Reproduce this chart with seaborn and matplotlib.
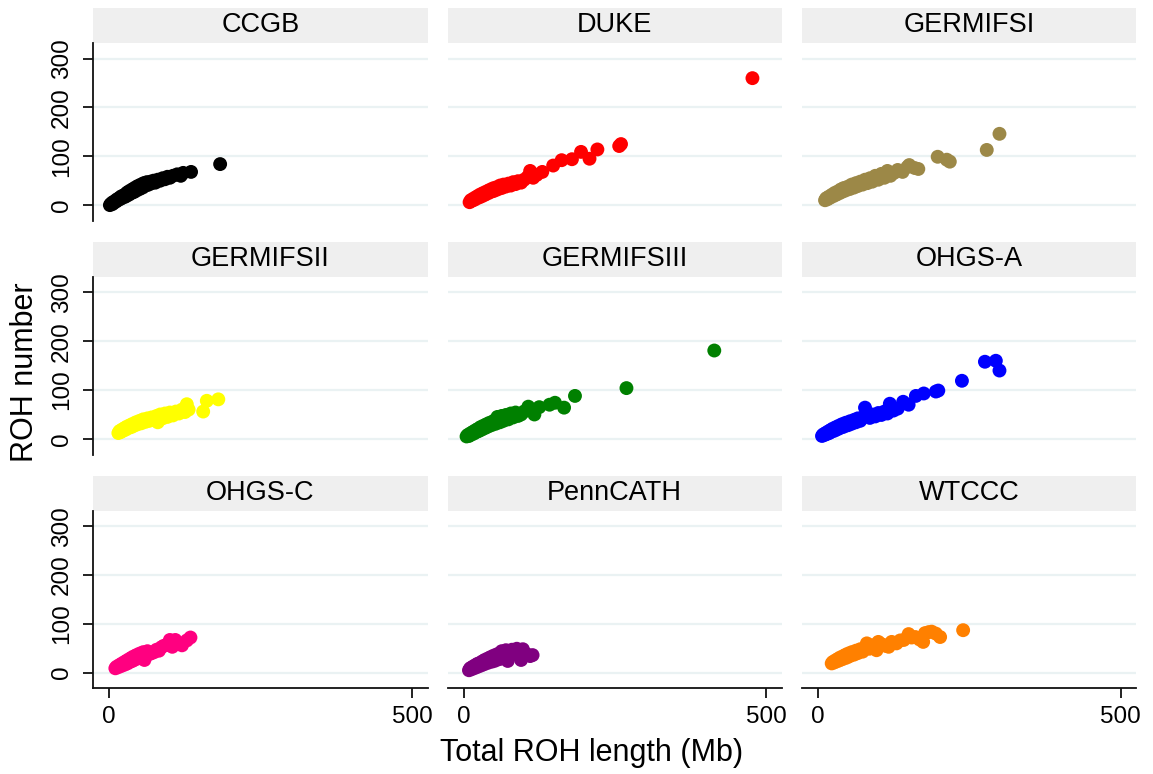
import matplotlib
matplotlib.use("Agg")
import matplotlib.pyplot as plt
from matplotlib.patches import Rectangle
import seaborn as sns
import pandas as pd

cohorts = ["CCGB", "DUKE", "GERMIFSI", "GERMIFSII", "GERMIFSIII",
           "OHGS-A", "OHGS-C", "PennCATH", "WTCCC"]
colors = ["#000000", "#ff0000", "#9c8847", "#ffff00", "#008000",
          "#0000ff", "#ff0080", "#800080", "#ff8000"]

ccgb_x = [1, 3, 5, 6, 8, 10, 12, 13, 15, 17, 19, 20, 22, 24, 26, 28, 30, 31, 33, 35, 37, 39, 41, 43, 45, 47, 50, 52, 55, 57, 60, 62, 65, 68, 70, 73, 76, 80, 84, 88, 92, 96, 100, 105, 112, 118, 122, 135, 183]
ccgb_y = [0, 3, 2, 6, 5, 9, 8, 12, 11, 15, 13, 18, 16, 20, 17, 24, 20, 27, 22, 30, 25, 33, 27, 36, 30, 39, 33, 42, 36, 45, 40, 47, 42, 48, 45, 50, 46, 52, 50, 55, 53, 58, 56, 60, 63, 60, 66, 68, 84]

duke_x = [10, 12, 14, 16, 18, 20, 22, 24, 26, 28, 30, 33, 35, 38, 40, 43, 45, 48, 50, 53, 56, 60, 63, 66, 70, 74, 78, 82, 86, 90, 95, 100, 106, 110, 115, 121, 130, 148, 162, 179, 194, 208, 221, 257, 260, 477]
duke_y = [6, 10, 9, 13, 11, 16, 14, 19, 16, 22, 18, 25, 21, 28, 24, 31, 27, 34, 29, 36, 32, 40, 35, 42, 38, 44, 40, 47, 43, 49, 46, 52, 58, 70, 56, 62, 68, 81, 92, 94, 109, 95, 114, 121, 125, 260]

germ1_x = [12, 14, 16, 18, 20, 23, 25, 28, 30, 33, 35, 38, 40, 43, 46, 50, 53, 56, 60, 63, 66, 70, 74, 78, 82, 86, 90, 95, 100, 105, 110, 115, 120, 126, 132, 140, 148, 151, 160, 166, 198, 213, 218, 279, 300]
germ1_y = [10, 14, 12, 17, 15, 21, 18, 25, 21, 28, 24, 32, 27, 35, 30, 38, 33, 42, 36, 45, 39, 48, 42, 52, 45, 55, 48, 60, 52, 64, 56, 70, 60, 66, 72, 68, 78, 82, 76, 74, 99, 93, 89, 113, 146]

germ2_x = [15, 17, 19, 21, 23, 25, 27, 29, 31, 34, 36, 39, 41, 44, 47, 50, 53, 56, 60, 63, 66, 70, 74, 78, 80, 84, 88, 92, 96, 100, 105, 110, 115, 120, 125, 128, 131, 155, 161, 180]
germ2_y = [12, 16, 14, 19, 17, 22, 19, 25, 22, 28, 24, 31, 27, 34, 30, 37, 32, 40, 35, 42, 37, 44, 39, 47, 34, 50, 42, 52, 45, 54, 48, 56, 52, 60, 55, 71, 60, 56, 78, 81]

germ3_x = [5, 7, 9, 11, 13, 15, 17, 19, 21, 23, 25, 28, 30, 33, 35, 38, 40, 43, 46, 50, 53, 56, 60, 63, 66, 70, 74, 78, 82, 86, 90, 95, 100, 107, 112, 117, 125, 142, 151, 166, 184, 269, 414]
germ3_y = [5, 8, 6, 11, 9, 14, 11, 17, 14, 20, 16, 24, 19, 27, 22, 30, 25, 33, 28, 37, 31, 45, 34, 47, 37, 49, 40, 52, 44, 54, 47, 50, 56, 66, 58, 50, 65, 70, 74, 64, 88, 104, 181]

ohgsa_x = [7, 9, 11, 13, 15, 17, 19, 21, 23, 25, 28, 30, 33, 35, 38, 40, 43, 46, 50, 53, 56, 60, 63, 66, 70, 74, 78, 82, 86, 90, 95, 100, 105, 110, 115, 119, 125, 132, 141, 150, 162, 175, 195, 199, 238, 276, 294, 300]
ohgsa_y = [6, 9, 8, 12, 10, 15, 12, 18, 15, 21, 17, 24, 20, 27, 23, 30, 25, 33, 28, 36, 31, 39, 34, 42, 37, 44, 64, 47, 43, 50, 46, 53, 49, 56, 52, 72, 58, 62, 76, 70, 88, 93, 97, 99, 119, 158, 160, 140]

ohgsc_x = [10, 12, 14, 16, 18, 20, 22, 24, 26, 28, 30, 32, 34, 36, 38, 40, 43, 45, 48, 50, 53, 56, 58, 60, 63, 66, 70, 74, 78, 82, 86, 90, 95, 100, 104, 109, 115, 120, 128, 134]
ohgsc_y = [9, 12, 11, 15, 13, 18, 15, 21, 17, 24, 19, 27, 22, 30, 24, 33, 27, 36, 30, 39, 32, 42, 26, 35, 44, 38, 40, 42, 47, 45, 52, 55, 57, 67, 53, 67, 60, 56, 66, 72]

penn_x = [9, 11, 13, 15, 17, 19, 21, 23, 25, 27, 29, 31, 33, 35, 37, 40, 42, 45, 48, 50, 53, 56, 60, 63, 66, 70, 73, 76, 80, 84, 88, 92, 95, 98, 104, 110, 114]
penn_y = [5, 9, 7, 12, 9, 15, 11, 18, 13, 20, 15, 23, 17, 26, 19, 29, 21, 32, 23, 35, 25, 38, 28, 44, 30, 46, 24, 40, 47, 38, 49, 40, 26, 48, 38, 34, 36]

wtccc_x = [23, 25, 27, 29, 31, 33, 35, 37, 39, 41, 43, 45, 48, 50, 53, 56, 60, 63, 66, 70, 74, 78, 81, 85, 90, 95, 97, 100, 106, 112, 117, 122, 130, 136, 142, 150, 155, 161, 168, 174, 177, 183, 188, 195, 202, 240]
wtccc_y = [19, 22, 21, 25, 23, 28, 25, 31, 27, 33, 29, 36, 31, 39, 34, 42, 37, 45, 40, 48, 43, 51, 60, 49, 56, 52, 46, 63, 58, 55, 53, 63, 60, 66, 67, 79, 72, 73, 68, 63, 81, 83, 84, 80, 73, 87]

x_ticks = [0, 500]
y_ticks = [0, 100, 200, 300]

series = {
    "CCGB": (ccgb_x, ccgb_y),
    "DUKE": (duke_x, duke_y),
    "GERMIFSI": (germ1_x, germ1_y),
    "GERMIFSII": (germ2_x, germ2_y),
    "GERMIFSIII": (germ3_x, germ3_y),
    "OHGS-A": (ohgsa_x, ohgsa_y),
    "OHGS-C": (ohgsc_x, ohgsc_y),
    "PennCATH": (penn_x, penn_y),
    "WTCCC": (wtccc_x, wtccc_y),
}

frames = []
for name in cohorts:
    xs, ys = series[name]
    frames.append(pd.DataFrame({"length": xs, "number": ys, "cohort": name}))
df = pd.concat(frames, ignore_index=True)

sns.set_style("white")
plt.rcParams["font.family"] = ["Liberation Sans", "DejaVu Sans"]

palette = dict(zip(cohorts, colors))
g = sns.relplot(data=df, x="length", y="number", col="cohort", hue="cohort",
                col_order=cohorts, hue_order=cohorts, palette=palette,
                col_wrap=3, s=100, linewidth=0, legend=False,
                height=2.5, aspect=1.3,
                facet_kws=dict(sharex=True, sharey=True))

fig = g.figure
fig.set_size_inches(11.53, 7.74)
W, H = 1153, 774
fig.subplots_adjust(left=93.3 / W, right=1136 / W, top=1 - 43 / H,
                    bottom=1 - 688.3 / H, wspace=20 / 334, hspace=56 / 177.6)

g.set_titles("")
g.set_axis_labels("", "")

spine_c = "#111111"
for i, ax in enumerate(g.axes.flat):
    row, col = divmod(i, 3)
    ax.set_xlim(-26.4, 525.4)
    ax.set_ylim(-32, 332)
    ax.set_xticks(x_ticks)
    ax.set_yticks(y_ticks)
    ax.yaxis.grid(True, color="#eaf2f3", linewidth=1.6)
    ax.xaxis.grid(False)
    ax.set_axisbelow(True)
    for s in ["top", "right"]:
        ax.spines[s].set_visible(False)
    ax.spines["left"].set_visible(col == 0)
    ax.spines["bottom"].set_visible(row == 2)
    for s in ["left", "bottom"]:
        ax.spines[s].set_color(spine_c)
        ax.spines[s].set_linewidth(1.3)
    ax.tick_params(axis="y", left=(col == 0), labelleft=(col == 0),
                   length=7.5, width=1.3, color=spine_c, pad=7, labelsize=17.5,
                   labelcolor="#000000", direction="out")
    ax.tick_params(axis="x", bottom=(row == 2), labelbottom=(row == 2),
                   length=7.5, width=1.3, color=spine_c, pad=5, labelsize=17.5,
                   labelcolor="#000000", direction="out")
    if col == 0:
        for lab in ax.get_yticklabels():
            lab.set_rotation(90)
            lab.set_va("center")
            lab.set_ha("right")
    strip_h = 35 / 177.6
    ax.add_patch(Rectangle((0, 1), 1, strip_h, transform=ax.transAxes,
                           facecolor="#efefef", edgecolor="none", clip_on=False,
                           zorder=0))
    ax.text(0.5, 1 + strip_h / 2, cohorts[i], transform=ax.transAxes,
            ha="center", va="center", fontsize=19.5, color="#000000")

fig.text(592 / W, 1 - 753 / H, "Total ROH length (Mb)", ha="center", va="center",
         fontsize=22, color="#000000")
fig.text(25 / W, 1 - 372 / H, "ROH number", ha="center", va="center",
         rotation=90, fontsize=22, color="#000000")

fig.savefig("out.png", dpi=100)
